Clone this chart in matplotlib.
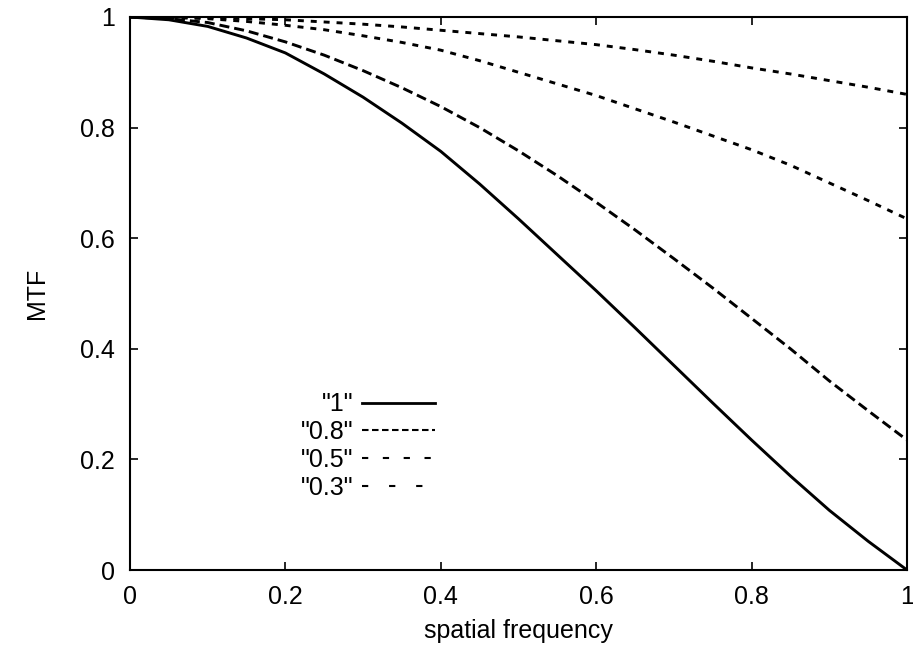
import matplotlib.pyplot as plt
from matplotlib.lines import Line2D

plt.rcParams['font.family'] = ['Liberation Sans', 'DejaVu Sans']
plt.rcParams['lines.scale_dashes'] = False

freq = [0.0, 0.05, 0.1, 0.15, 0.2, 0.25, 0.3, 0.35, 0.4, 0.45, 0.5,
        0.55, 0.6, 0.65, 0.7, 0.75, 0.8, 0.85, 0.9, 0.95, 1.0]

mtf_1 = [1.0, 0.995, 0.983, 0.962, 0.935, 0.897, 0.855, 0.808, 0.757, 0.698, 0.635,
         0.57, 0.505, 0.438, 0.37, 0.302, 0.235, 0.17, 0.108, 0.052, 0.0]
mtf_08 = [1.0, 0.997, 0.99, 0.975, 0.955, 0.931, 0.903, 0.872, 0.838, 0.8, 0.758,
          0.713, 0.665, 0.615, 0.563, 0.51, 0.455, 0.4, 0.342, 0.288, 0.235]
mtf_05 = [1.0, 0.999, 0.997, 0.992, 0.985, 0.977, 0.966, 0.954, 0.94, 0.921, 0.9,
          0.879, 0.858, 0.834, 0.81, 0.785, 0.76, 0.732, 0.70, 0.668, 0.635]
mtf_03 = [1.0, 1.0, 0.999, 0.997, 0.995, 0.991, 0.987, 0.982, 0.976, 0.97, 0.964,
          0.957, 0.95, 0.941, 0.931, 0.92, 0.908, 0.897, 0.885, 0.873, 0.86]

labels = ['"1"', '"0.8"', '"0.5"', '"0.3"']

fig = plt.figure(figsize=(9.13, 6.52), dpi=100)
ax = fig.add_axes([130 / 913, 1 - 570 / 652, 777 / 913, 553 / 652])

lw = 2.1
ax.plot(freq, mtf_1, color='k', lw=lw, solid_joinstyle='round')
ax.plot(freq, mtf_08, color='k', lw=lw, dashes=(7.2, 3.6))
ax.plot(freq, mtf_05, color='k', lw=lw, dashes=(4.3, 5.0))
ax.plot(freq, mtf_03, color='k', lw=lw, dashes=(4.3, 5.0))

# legend handles drawn like the original key (thinner, its own dash spacing)
handles = [
    Line2D([], [], color='k', lw=2.0),
    Line2D([], [], color='k', lw=1.5, dashes=(4.7, 2.5)),
    Line2D([], [], color='k', lw=1.5, dashes=(4.5, 10.5)),
    Line2D([], [], color='k', lw=1.5, dashes=(4.5, 15.0)),
]
ax.legend(handles, labels, loc='upper right', bbox_to_anchor=(0.3925, 0.321),
          markerfirst=False, frameon=False, fontsize=18, handlelength=2.9,
          handletextpad=0.35, labelspacing=0.15, borderpad=0, borderaxespad=0)

ax.set_xlim(0, 1)
ax.set_ylim(0, 1)
ax.set_xticks([0, 0.2, 0.4, 0.6, 0.8, 1])
ax.set_xticklabels(['0', '0.2', '0.4', '0.6', '0.8', '1'])
ax.set_yticks([0, 0.2, 0.4, 0.6, 0.8, 1])
ax.set_yticklabels(['0', '0.2', '0.4', '0.6', '0.8', '1'])
ax.tick_params(direction='in', length=6, width=1.2, labelsize=18, pad=11,
               top=True, right=True)
for s in ax.spines.values():
    s.set_linewidth(1.5)

ax.set_xlabel('spatial frequency', fontsize=18, labelpad=7)
ax.set_ylabel('MTF', fontsize=18, labelpad=22)

fig.savefig('out.png', dpi=100)
